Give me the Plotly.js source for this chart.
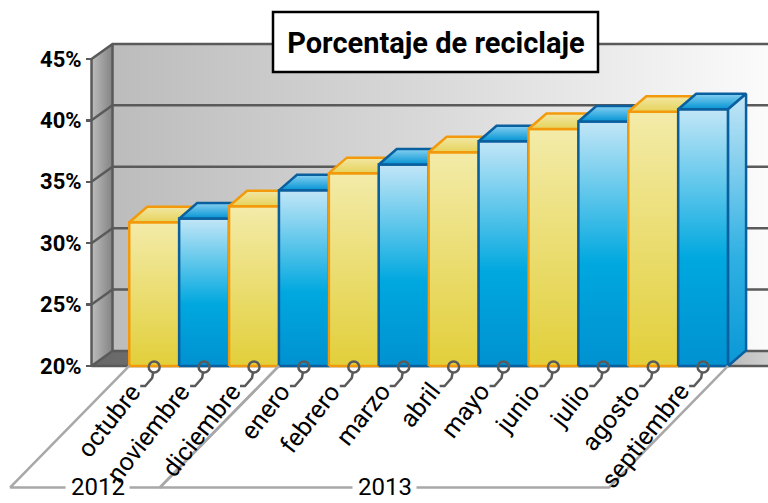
<!DOCTYPE html>
<html><head><meta charset="utf-8">
<script src="https://cdn.plot.ly/plotly-3.0.1.min.js"></script>
<style>html,body{margin:0;padding:0;background:#fff}#chart{width:768px;height:503px}</style>
</head><body><div id="chart"></div>
<script>
// ---- data ----
const months = ['octubre','noviembre','diciembre','enero','febrero','marzo','abril','mayo','junio','julio','agosto','septiembre'];
const values = [31.7, 32.0, 33.0, 34.3, 35.7, 36.4, 37.4, 38.3, 39.3, 39.9, 40.7, 40.9];
const yearLabels = ['2012', '2013'];
const yearFirst = [0, 3];
const yearLast = [2, 11];
const yTickVals = [20, 25, 30, 35, 40, 45];
const yTickText = ['20%', '25%', '30%', '35%', '40%', '45%'];
const chartTitle = 'Porcentaje de reciclaje';

// ---- geometry / style ----
const PXX = 49.9, PXY = 12.28;           // pixels per data unit (x, y)
const X0 = -3.09, X1 = 12.30, Y0 = 8.84, Y1 = 49.80;
const yBase = yTickVals[0], yTop = yTickVals[yTickVals.length - 1];
const wallFront = -1.256, wallDX = 21 / PXX, wallDY = 15 / PXY;
const barDX = 18 / PXX, barDY = 15.5 / PXY;
const FONT = 'Roboto, "Liberation Sans", sans-serif';
const GRID = '#5a5a5a';

const traces = [];
function poly(xs, ys, grad, line) {
  traces.push({
    type: 'scatter', mode: 'lines', x: xs.concat([xs[0]]), y: ys.concat([ys[0]]),
    fill: 'toself', fillgradient: grad,
    line: line || {width: 0, color: 'rgba(0,0,0,0)'},
    hoverinfo: 'skip', showlegend: false
  });
}

// back wall
const xb = wallFront + wallDX;
poly([xb, X1, X1, xb], [yBase + wallDY, yBase + wallDY, yTop + wallDY, yTop + wallDY],
  {type: 'horizontal', colorscale: [[0, '#bcbcbc'], [0.5, '#dadada'], [1, '#fbfbfb']]});
// left wall
poly([wallFront, xb, xb, wallFront], [yBase, yBase + wallDY, yTop + wallDY, yTop],
  {type: 'horizontal', colorscale: [[0, '#bdbdbd'], [1, '#838383']]});
// floor
poly([wallFront, X1, X1, xb], [yBase, yBase, yBase + wallDY, yBase + wallDY],
  {type: 'horizontal', colorscale: [[0, '#686868'], [0.85, '#9a9a9a'], [1, '#cfcfcf']]});

// grid lines
const gx = [], gy = [];
yTickVals.forEach(v => {
  gx.push(wallFront, xb, X1, null); gy.push(v, v + wallDY, v + wallDY, null);
});
gx.push(wallFront, wallFront, null, xb, xb, null, wallFront, X1, null);
gy.push(yBase, yTop, null, yBase + wallDY, yTop + wallDY, null, yBase, yBase, null);
traces.push({type: 'scatter', mode: 'lines', x: gx, y: gy, line: {color: GRID, width: 2.5},
  hoverinfo: 'skip', showlegend: false});

// bars
const yellow = {
  front: [[0, '#e2cf3a'], [1, '#f3eba9']],
  top: [[0, '#e6d35a'], [1, '#f2e7a4']],
  line: '#f39a0c'
};
const blue = {
  front: [[0, '#0091d1'], [0.42, '#00a8df'], [1, '#c2e6f7']],
  top: [[0, '#0394d4'], [1, '#86d0f1']],
  side: [[0, '#0a98d7'], [0.4, '#2fb0e2'], [1, '#c4e6f7']],
  line: '#0a5f9f'
};
values.forEach((v, i) => {
  const s = (i % 2 === 0) ? yellow : blue;
  const l = i - 0.5, r = i + 0.5;
  const ln = {color: s.line, width: 2.5};
  poly([l, r, r, l], [yBase, yBase, v, v], {type: 'vertical', colorscale: s.front}, ln);
  poly([l, r, r + barDX, l + barDX], [v, v, v + barDY, v + barDY], {type: 'vertical', colorscale: s.top}, ln);
  if (i === values.length - 1) {
    poly([r, r + barDX, r + barDX, r], [yBase, yBase + barDY, v + barDY, v],
      {type: 'vertical', colorscale: (s.side || s.front)}, ln);
  }
});

// leader lines + circles
const cy = yBase - 1 / PXY;
const lx = [], ly = [];
months.forEach((m, i) => {
  lx.push(i - 1 / PXX, i - 2 / PXX, i - 9 / PXX, i - 14 / PXX, null);
  ly.push(cy - 5.5 / PXY, yBase - 12 / PXY, yBase - 20 / PXY, yBase - 20 / PXY, null);
});
traces.push({type: 'scatter', mode: 'lines', x: lx, y: ly, line: {color: GRID, width: 2.5},
  hoverinfo: 'skip', showlegend: false});
traces.push({type: 'scatter', mode: 'markers', x: months.map((m, i) => i), y: months.map(() => cy),
  marker: {symbol: 'circle-open', size: 11, color: GRID, line: {width: 2.5, color: GRID}},
  hoverinfo: 'skip', showlegend: false});

// year brackets (horizontal line interrupted around the year label)
const bDX = 119 / PXX, bY = yBase - 121.5 / PXY, gapHalf = 32 / PXX;
const bx = [], by = [], yearX = [];
yearLabels.forEach((y, k) => {
  const l = yearFirst[k] - 0.5, r = yearLast[k] + 0.5;
  const mid = (l + r) / 2 - bDX + 0.25 - 0.25 * k;
  yearX.push(mid);
  bx.push(l, l - bDX, mid - gapHalf, null, mid + gapHalf, r - bDX, r, null);
  by.push(yBase, bY, bY, null, bY, bY, yBase, null);
});
traces.push({type: 'scatter', mode: 'lines', x: bx, y: by, line: {color: '#a8a8a8', width: 2.5},
  hoverinfo: 'skip', showlegend: false});

const annotations = [];
months.forEach((m, i) => {
  annotations.push({
    x: i - 5 / PXX, y: yBase - 9 / PXY, xref: 'x', yref: 'y', text: m, showarrow: false,
    textangle: -52, xanchor: 'right', yanchor: 'top',
    font: {family: FONT, size: 25, color: '#000'}
  });
});
yearLabels.forEach((y, k) => {
  annotations.push({
    x: yearX[k], y: bY, xref: 'x', yref: 'y', text: y, showarrow: false,
    xanchor: 'center', yanchor: 'middle', yshift: 0,
    font: {family: FONT, size: 24, color: '#000'}
  });
});

const layout = {
  width: 768, height: 503,
  margin: {l: 0, r: 0, t: 0, b: 0, pad: 0},
  paper_bgcolor: '#fff', plot_bgcolor: 'rgba(0,0,0,0)',
  showlegend: false,
  title: {
    text: chartTitle, x: 436 / 768, xanchor: 'center', xref: 'paper',
    y: 1 - 43 / 503, yanchor: 'middle', yref: 'paper',
    font: {family: FONT, size: 29, weight: 'bold', color: '#000'}
  },
  xaxis: {range: [X0, X1], visible: false, fixedrange: true},
  yaxis: {
    range: [Y0, Y1], anchor: 'free', position: 92 / 768, side: 'left',
    tickvals: yTickVals, ticktext: yTickText, ticks: 'outside', ticklen: 6, tickwidth: 2.5,
    tickcolor: GRID, showgrid: false, zeroline: false, showline: false, automargin: false,
    tickfont: {family: FONT, size: 22, weight: 'bold', color: '#000'}, fixedrange: true
  },
  shapes: [{
    type: 'rect', xref: 'paper', yref: 'paper', layer: 'above',
    x0: 273 / 768, x1: 598 / 768, y0: 1 - 72 / 503, y1: 1 - 12 / 503,
    fillcolor: '#fff', line: {color: '#000', width: 2.5}
  }],
  annotations: annotations
};

Plotly.newPlot('chart', traces, layout, {staticPlot: true, displayModeBar: false});
</script>
</body></html>
